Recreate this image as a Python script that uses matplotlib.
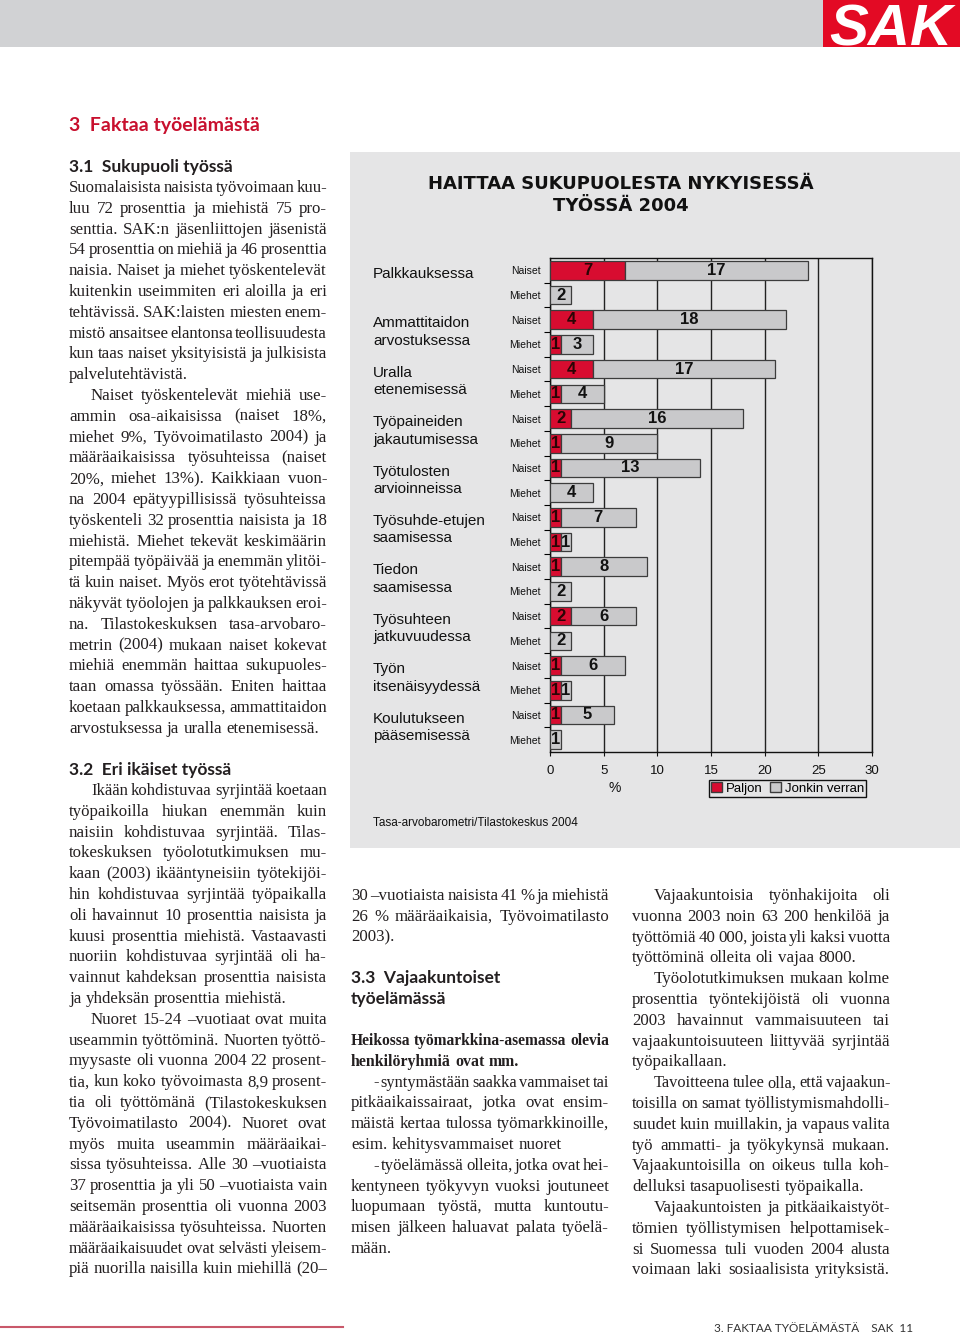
import numpy as np
import matplotlib
matplotlib.use("Agg")
import matplotlib.pyplot as plt
import matplotlib.transforms as mtransforms
from matplotlib.patches import Patch, Rectangle

# kaavion data (%)
kategoriat = [
    "Palkkauksessa\n ", "Ammattitaidon\narvostuksessa", "Uralla\netenemisessä",
    "Työpaineiden\njakautumisessa", "Työtulosten\narvioinneissa",
    "Työsuhde-etujen\nsaamisessa", "Tiedon\nsaamisessa", "Työsuhteen\njatkuvuudessa",
    "Työn\nitsenäisyydessä", "Koulutukseen\npääsemisessä",
]
ryhmat = ["Naiset", "Miehet"]
naiset_paljon = [7, 4, 4, 2, 1, 1, 1, 2, 1, 1]
naiset_jonkin = [17, 18, 17, 16, 13, 7, 8, 6, 6, 5]
miehet_paljon = [0, 1, 1, 1, 0, 1, 0, 0, 1, 0]
miehet_jonkin = [2, 3, 4, 9, 4, 1, 2, 2, 1, 1]
x_ticks = [0, 5, 10, 15, 20, 25, 30]
sarjat = ["Paljon", "Jonkin verran"]

# tekstit
vasen_p1 = [
    "Suomalaisista naisista työvoimaan kuu-",
    "luu 72 prosenttia ja miehistä 75 pro-",
    "senttia. SAK:n jäsenliittojen jäsenistä",
    "54 prosenttia on miehiä ja 46 prosenttia",
    "naisia. Naiset ja miehet työskentelevät",
    "kuitenkin useimmiten eri aloilla ja eri",
    "tehtävissä. SAK:laisten miesten enem-",
    "mistö ansaitsee elantonsa teollisuudesta",
    "kun taas naiset yksityisistä ja julkisista",
    "palvelutehtävistä.",
]
vasen_p2 = [
    "Naiset työskentelevät miehiä use-",
    "ammin osa-aikaisissa (naiset 18%,",
    "miehet 9%, Työvoimatilasto 2004) ja",
    "määräaikaisissa työsuhteissa (naiset",
    "20%, miehet 13%). Kaikkiaan vuon-",
    "na 2004 epätyypillisissä työsuhteissa",
    "työskenteli 32 prosenttia naisista ja 18",
    "miehistä. Miehet tekevät keskimäärin",
    "pitempää työpäivää ja enemmän ylitöi-",
    "tä kuin naiset. Myös erot työtehtävissä",
    "näkyvät työolojen ja palkkauksen eroi-",
    "na. Tilastokeskuksen tasa-arvobaro-",
    "metrin (2004) mukaan naiset kokevat",
    "miehiä enemmän haittaa sukupuoles-",
    "taan omassa työssään. Eniten haittaa",
    "koetaan palkkauksessa, ammattitaidon",
    "arvostuksessa ja uralla etenemisessä.",
]
vasen_p3 = [
    "Ikään kohdistuvaa syrjintää koetaan",
    "työpaikoilla hiukan enemmän kuin",
    "naisiin kohdistuvaa syrjintää. Tilas-",
    "tokeskuksen työolotutkimuksen mu-",
    "kaan (2003) ikääntyneisiin työtekijöi-",
    "hin kohdistuvaa syrjintää työpaikalla",
    "oli havainnut 10 prosenttia naisista ja",
    "kuusi prosenttia miehistä. Vastaavasti",
    "nuoriin kohdistuvaa syrjintää oli ha-",
    "vainnut kahdeksan prosenttia naisista",
    "ja yhdeksän prosenttia miehistä.",
]
vasen_p4 = [
    "Nuoret 15-24 –vuotiaat ovat muita",
    "useammin työttöminä. Nuorten työttö-",
    "myysaste oli vuonna 2004 22 prosent-",
    "tia, kun koko työvoimasta 8,9 prosent-",
    "tia oli työttömänä (Tilastokeskuksen",
    "Työvoimatilasto 2004). Nuoret ovat",
    "myös muita useammin määräaikai-",
    "sissa työsuhteissa. Alle 30 –vuotiaista",
    "37 prosenttia ja yli 50 –vuotiaista vain",
    "seitsemän prosenttia oli vuonna 2003",
    "määräaikaisissa työsuhteissa. Nuorten",
    "määräaikaisuudet ovat selvästi yleisem-",
    "piä nuorilla naisilla kuin miehillä (20–",
]
keski_p1 = [
    "30 –vuotiaista naisista 41 % ja miehistä",
    "26 % määräaikaisia, Työvoimatilasto",
    "2003).",
]
keski_lihava = [
    "Heikossa työmarkkina-asemassa olevia",
    "henkilöryhmiä ovat mm.",
]
keski_p2 = [
    "- syntymästään saakka vammaiset tai",
    "pitkäaikaissairaat, jotka ovat ensim-",
    "mäistä kertaa tulossa työmarkkinoille,",
    "esim. kehitysvammaiset nuoret",
]
keski_p3 = [
    "- työelämässä olleita, jotka ovat hei-",
    "kentyneen työkyvyn vuoksi joutuneet",
    "luopumaan työstä, mutta kuntoutu-",
    "misen jälkeen haluavat palata työelä-",
    "mään.",
]
oikea_p1 = [
    "Vajaakuntoisia työnhakijoita oli",
    "vuonna 2003 noin 63 200 henkilöä ja",
    "työttömiä 40 000, joista yli kaksi vuotta",
    "työttöminä olleita oli vajaa 8000.",
]
oikea_p2 = [
    "Työolotutkimuksen mukaan kolme",
    "prosenttia työntekijöistä oli vuonna",
    "2003 havainnut vammaisuuteen tai",
    "vajaakuntoisuuteen liittyvää syrjintää",
    "työpaikallaan.",
]
oikea_p3 = [
    "Tavoitteena tulee olla, että vajaakun-",
    "toisilla on samat työllistymismahdolli-",
    "suudet kuin muillakin, ja vapaus valita",
    "työ ammatti- ja työkykynsä mukaan.",
    "Vajaakuntoisilla on oikeus tulla koh-",
    "delluksi tasapuolisesti työpaikalla.",
]
oikea_p4 = [
    "Vajaakuntoisten ja pitkäaikaistyöt-",
    "tömien työllistymisen helpottamisek-",
    "si Suomessa tuli vuoden 2004 alusta",
    "voimaan laki sosiaalisista yrityksistä.",
]

PUNAINEN = "#d80c30"
HARMAA = "#c9c9cb"
REUNA = "#3c3c3c"
PANEELI = "#e5e5e6"
TEKSTI = "#231f20"
OTSIKKO = "#c8102e"
LH = 20.8
KOKO = 12.2

W, H = 960, 1334
fig = plt.figure(figsize=(9.6, 13.34), dpi=100)
page = fig.add_axes([0, 0, 1, 1])
page.set_xlim(0, W)
page.set_ylim(H, 0)
page.axis("off")
renderer = fig.canvas.get_renderer()

# yläpalkki ja logo
page.add_patch(Rectangle((0, 0), W, 47, color="#d1d2d4", lw=0))
page.add_patch(Rectangle((823, 0), 137, 47, color="#e30a24", lw=0))
page.text(891, 46, "SAK", ha="center", va="baseline", fontsize=42,
          family="Liberation Sans", weight="bold", style="italic", color="white")

page.text(69, 125, "3  Faktaa työelämästä", fontsize=14, family="Lato",
          weight="bold", color=OTSIKKO, va="center")


def leveys(s, size, weight, family):
    o = page.text(0, 0, s, fontsize=size, weight=weight, family=family)
    w = o.get_window_extent(renderer).width
    o.remove()
    return w


def rivi_piirto(sanat, y, size, weight, family):
    objs = [page.text(0, y, s, fontsize=size, weight=weight, family=family,
                      va="center", ha="left", color=TEKSTI) for s in sanat]
    return objs, [o.get_window_extent(renderer).width for o in objs]


def kappale(rivit, x0, y0, lev, sisennys=22, size=KOKO, weight="normal",
            family="Liberation Serif", tasaa_viimeinen=False):
    vali = leveys("a a", size, weight, family) - leveys("aa", size, weight, family)
    y = y0
    for i, rivi in enumerate(rivit):
        sanat = rivi.split()
        xs = x0 + (sisennys if i == 0 else 0)
        tilaa = x0 + lev - xs
        koko = size
        objs, ws = rivi_piirto(sanat, y, koko, weight, family)
        # liian pitkä rivi: pienennetään hieman
        while sum(ws) + (len(sanat) - 1) * vali * 0.45 > tilaa and koko > size - 2:
            for o in objs:
                o.remove()
            koko -= 0.2
            objs, ws = rivi_piirto(sanat, y, koko, weight, family)
        viimeinen = i == len(rivit) - 1 and not tasaa_viimeinen
        if viimeinen or len(sanat) == 1:
            g = vali
        else:
            g = (tilaa - sum(ws)) / (len(sanat) - 1)
        x = xs
        for o, w in zip(objs, ws):
            o.set_x(x)
            x += w + g
        y += LH
    return y


def otsikko(s, x, y):
    page.text(x, y, s, fontsize=12.5, family="Lato", weight="bold",
              color=TEKSTI, va="center")


# vasen palsta
otsikko("3.1  Sukupuoli työssä", 69, 167)
y = kappale(vasen_p1, 69, 188, 258, sisennys=0)
kappale(vasen_p2, 69, y, 258)
otsikko("3.2  Eri ikäiset työssä", 69, 770)
y = kappale(vasen_p3, 69, 791, 258)
kappale(vasen_p4, 69, y, 258, tasaa_viimeinen=True)

# keskipalsta
kappale(keski_p1, 351, 896, 258, sisennys=0)
otsikko("3.3  Vajaakuntoiset", 351, 978)
otsikko("työelämässä", 351, 999)
y = kappale(keski_lihava, 351, 1041, 258, sisennys=0, weight="bold", size=11.4)
y = kappale(keski_p2, 351, y, 258)
kappale(keski_p3, 351, y, 258)

# oikea palsta
y = kappale(oikea_p1, 632, 896, 258)
y = kappale(oikea_p2, 632, y, 258)
y = kappale(oikea_p3, 632, y, 258)
kappale(oikea_p4, 632, y, 258, tasaa_viimeinen=True)

# alatunniste
page.plot([0, 343], [1327, 1327], color="#c9586a", lw=1.5)
page.text(913, 1328, "3. FAKTAA TYÖELÄMÄSTÄ    SAK  11", ha="right", va="center",
          fontsize=8.5, family="Lato", color="#333333")

# kaavion paneeli
page.add_patch(Rectangle((350, 152), 610, 696, color=PANEELI, lw=0))
page.text(621, 195, "HAITTAA SUKUPUOLESTA NYKYISESSÄ\nTYÖSSÄ 2004", ha="center",
          va="center", fontsize=13, weight="bold", family="DejaVu Sans",
          linespacing=1.25, color="#111111")
page.text(373, 823, "Tasa-arvobarometri/Tilastokeskus 2004", fontsize=8.5,
          family="Liberation Sans", va="center", color="#111111")
page.text(615, 788, "%", fontsize=10, family="Liberation Sans", ha="center",
          va="center", color="#111111")

ax = fig.add_axes([550 / W, 1 - 752 / H, 322 / W, 494 / H])
ax.patch.set_alpha(0)

paljon, jonkin, rivi_nimet = [], [], []
for i in range(len(kategoriat)):
    paljon += [naiset_paljon[i], miehet_paljon[i]]
    jonkin += [naiset_jonkin[i], miehet_jonkin[i]]
    rivi_nimet += ryhmat
pos = np.arange(len(paljon))

for y_, p, j in zip(pos, paljon, jonkin):
    if p:
        ax.barh(y_, p, height=0.75, color=PUNAINEN, edgecolor=REUNA, lw=0.9, zorder=3)
        ax.text(p / 2, y_, str(p), ha="center", va="center", fontsize=12,
                weight="bold", family="Liberation Sans", color="#2a0505", zorder=4)
    if j:
        ax.barh(y_, j, left=p, height=0.75, color=HARMAA, edgecolor=REUNA, lw=0.9, zorder=3)
        ax.text(p + j / 2, y_, str(j), ha="center", va="center", fontsize=12,
                weight="bold", family="Liberation Sans", color="#111111", zorder=4)

ax.set_xlim(0, 30)
ax.set_ylim(len(pos) - 0.5, -0.5)
ax.set_xticks(x_ticks)
ax.set_xticklabels([str(v) for v in x_ticks], family="Liberation Sans")
ax.xaxis.grid(True, color="#222222", lw=1)
ax.set_axisbelow(True)
ax.tick_params(axis="x", length=3, width=0.8, pad=6, labelsize=9.5, colors="#111111")
ax.set_yticks(pos)
ax.set_yticklabels(rivi_nimet, family="Liberation Sans")
ax.tick_params(axis="y", which="major", length=0, pad=6.5, labelsize=7.5, colors="#111111")
ax.set_yticks(np.arange(0.5, len(pos) - 1, 1), minor=True)
ax.tick_params(axis="y", which="minor", length=4, width=0.8, direction="out")
for s in ax.spines.values():
    s.set_linewidth(1)
    s.set_color("#111111")

trans = mtransforms.blended_transform_factory(fig.transFigure, ax.transData)
for i, k in enumerate(kategoriat):
    ax.text(373 / W, 2 * i + 0.5, k, transform=trans, ha="left", va="center",
            fontsize=11, family="Liberation Sans", linespacing=1.3, color="#111111")

fig.legend(handles=[Patch(facecolor=PUNAINEN, edgecolor=REUNA),
                    Patch(facecolor=HARMAA, edgecolor=REUNA)],
           labels=sarjat, loc="center", bbox_to_anchor=(787.5 / W, 1 - 788.5 / H),
           ncol=2, frameon=True, fancybox=False, edgecolor="#111111",
           facecolor=PANEELI, framealpha=1, handlelength=0.8, handleheight=0.8,
           handletextpad=0.3, columnspacing=0.6, borderpad=0.15, borderaxespad=0,
           prop={"family": "Liberation Sans", "size": 9.5})

fig.savefig("out.png", dpi=100)
